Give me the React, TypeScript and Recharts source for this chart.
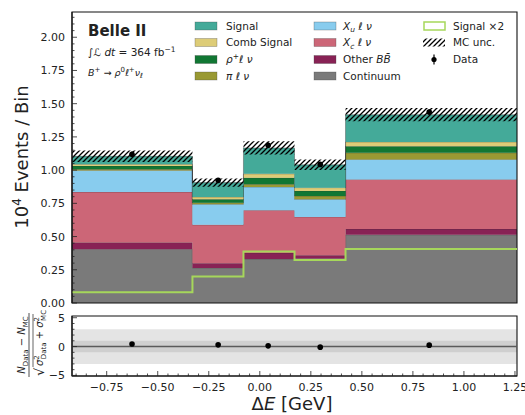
import { Area, ComposedChart, ErrorBar, Line, ReferenceArea, ReferenceLine, Scatter, XAxis, YAxis } from 'recharts';

// bin edges in ΔE [GeV]; the last edge closes the last bin of the step drawing
const binEdges = [-0.92, -0.33, -0.08, 0.17, 0.42, 1.26];

// stacked MC templates, 10^4 events / bin
const continuum = [0.405, 0.264, 0.331, 0.335, 0.513];
const otherBB = [0.05, 0.036, 0.045, 0.025, 0.043];
const xcLnu = [0.38, 0.288, 0.322, 0.288, 0.374];
const xuLnu = [0.163, 0.155, 0.175, 0.132, 0.15];
const piLnu = [0.008, 0.012, 0.02, 0.025, 0.05];
const rhoPlusLnu = [0.025, 0.025, 0.049, 0.038, 0.05];
const combSignal = [0.013, 0.018, 0.03, 0.025, 0.032];
const signal = [0.06, 0.108, 0.195, 0.172, 0.205];
const mcUnc = [0.043, 0.031, 0.05, 0.04, 0.05];
const signalTimes2 = [0.081, 0.2, 0.388, 0.324, 0.406];

// data points and pulls
const dataX = [-0.626, -0.204, 0.041, 0.296, 0.83];
const dataY = [1.12, 0.923, 1.187, 1.043, 1.437];
const dataErr = [0.02, 0.018, 0.02, 0.019, 0.022];
const pulls = [0.44, 0.3, 0.13, -0.1, 0.25];

const xMajor = [-0.75, -0.5, -0.25, 0, 0.25, 0.5, 0.75, 1, 1.25];
const yMajor = [0, 0.25, 0.5, 0.75, 1, 1.25, 1.5, 1.75, 2];
const pullMajor = [-5, 0, 5];

const X_DOMAIN: [number, number] = [-0.92, 1.26];
const Y_DOMAIN: [number, number] = [0, 2.19];
const PULL_DOMAIN: [number, number] = [-5.1, 5.3];
const FONT = '"DejaVu Sans", sans-serif';

function steps(from: number, to: number, step: number) {
  const out: number[] = [];
  for (let v = from; v <= to + 1e-9; v += step) out.push(Math.round(v * 1000) / 1000);
  return out;
}
const xMinor = steps(-0.9, 1.25, 0.05);
const yMinor = steps(0, 2.15, 0.05);
const pullMinor = steps(-5, 5, 1);

const layers = [
  { key: 'continuum', color: '#7a7a7a', values: continuum },
  { key: 'otherBB', color: '#882255', values: otherBB },
  { key: 'xc', color: '#cc6677', values: xcLnu },
  { key: 'xu', color: '#88ccee', values: xuLnu },
  { key: 'pi', color: '#999933', values: piLnu },
  { key: 'rho', color: '#117733', values: rhoPlusLnu },
  { key: 'comb', color: '#ddcc77', values: combSignal },
  { key: 'signal', color: '#44aa99', values: signal },
];

const histRows = binEdges.map((x, i) => {
  const b = Math.min(i, continuum.length - 1);
  const row: Record<string, number> = { x };
  let total = 0;
  layers.forEach((l) => {
    row[l.key] = l.values[b];
    total += l.values[b];
  });
  row.uncLo = total - mcUnc[b];
  row.uncBand = 2 * mcUnc[b];
  row.signalX2 = signalTimes2[b];
  return row;
});

const dataRows = dataX.map((x, i) => ({ x, y: dataY[i], err: dataErr[i] }));
const pullRows = dataX.map((x, i) => ({ x, pull: pulls[i] }));

const isMajor = (list: number[], v: number) => list.some((m) => Math.abs(m - v) < 1e-6);
const fmt = (v: number, d: number) => v.toFixed(d).replace('-', '\u2212');

function xTick(majors: number[], labels: boolean) {
  return (p: any) => {
    const major = isMajor(majors, p.payload.value);
    return (
      <g>
        <line x1={p.x} x2={p.x} y1={p.y} y2={p.y - (major ? 5 : 2.5)} stroke="#222" strokeWidth={0.8} />
        {labels && major && (
          <text x={p.x} y={p.y + 15} textAnchor="middle" fontSize={11} fill="#222" fontFamily={FONT}>
            {fmt(p.payload.value, 2)}
          </text>
        )}
      </g>
    );
  };
}

function yTick(majors: number[], digits: number) {
  return (p: any) => {
    const major = isMajor(majors, p.payload.value);
    return (
      <g>
        <line x1={p.x} x2={p.x + (major ? 5 : 2.5)} y1={p.y} y2={p.y} stroke="#222" strokeWidth={0.8} />
        {major && (
          <text x={p.x - 7} y={p.y + 4} textAnchor="end" fontSize={11} fill="#222" fontFamily={FONT}>
            {fmt(p.payload.value, digits)}
          </text>
        )}
      </g>
    );
  };
}

const axisStroke = { stroke: '#111', strokeWidth: 1.1 };
const dot = (p: any) => <circle cx={p.cx} cy={p.cy} r={2.8} fill="#000" />;

function MainPanel() {
  return (
    <ComposedChart width={525} height={310} data={histRows} margin={{ top: 12, right: 8, bottom: 7, left: 12 }}>
      {layers.map((l) => (
        <Area
          key={l.key}
          xAxisId="b"
          yAxisId="l"
          dataKey={l.key}
          stackId="mc"
          type="stepAfter"
          fill={l.color}
          fillOpacity={1}
          stroke="#333"
          strokeOpacity={0.55}
          strokeWidth={0.7}
          dot={false}
          activeDot={false}
          isAnimationActive={false}
        />
      ))}
      <Area xAxisId="b" yAxisId="l" dataKey="uncLo" stackId="unc" type="stepAfter" fill="none" stroke="none" dot={false} activeDot={false} isAnimationActive={false} />
      <Area xAxisId="b" yAxisId="l" dataKey="uncBand" stackId="unc" type="stepAfter" fill="url(#mcHatch)" fillOpacity={1} stroke="none" dot={false} activeDot={false} isAnimationActive={false} />
      <Line xAxisId="b" yAxisId="l" dataKey="signalX2" type="stepAfter" stroke="#a6d75b" strokeWidth={2} dot={false} activeDot={false} isAnimationActive={false} />
      <Scatter xAxisId="b" yAxisId="l" data={dataRows} dataKey="y" shape={dot} isAnimationActive={false}>
        <ErrorBar dataKey="err" direction="y" width={0} stroke="#000" strokeWidth={1.2} />
      </Scatter>
      {/* axes box */}
      <ReferenceArea xAxisId="b" yAxisId="l" x1={X_DOMAIN[0]} x2={X_DOMAIN[1]} y1={Y_DOMAIN[0]} y2={Y_DOMAIN[1]} fill="none" stroke="#111" strokeWidth={1.1} ifOverflow="visible" />
      <XAxis xAxisId="b" dataKey="x" type="number" domain={X_DOMAIN} allowDataOverflow ticks={xMinor} interval={0} height={0} tickSize={0} tickMargin={0} tickLine={false} axisLine={axisStroke} tick={xTick(xMajor, false)} />
      <YAxis yAxisId="l" type="number" domain={Y_DOMAIN} allowDataOverflow ticks={yMinor} interval={0} width={60} tickSize={0} tickMargin={0} tickLine={false} axisLine={axisStroke} tick={yTick(yMajor, 2)} />
    </ComposedChart>
  );
}

function PullPanel() {
  return (
    <ComposedChart width={525} height={115} data={pullRows} margin={{ top: 16, right: 8, bottom: 19, left: 12 }}>
      <ReferenceArea xAxisId="b" yAxisId="l" y1={-3} y2={3} fill="#e4e4e4" fillOpacity={1} stroke="none" />
      <ReferenceArea xAxisId="b" yAxisId="l" y1={-1} y2={1} fill="#cfcfcf" fillOpacity={1} stroke="none" />
      <ReferenceLine xAxisId="b" yAxisId="l" y={0} stroke="#5a5a5a" strokeWidth={1.5} />
      <Scatter xAxisId="b" yAxisId="l" dataKey="pull" shape={dot} isAnimationActive={false} />
      <ReferenceArea xAxisId="b" yAxisId="l" x1={X_DOMAIN[0]} x2={X_DOMAIN[1]} y1={PULL_DOMAIN[0]} y2={PULL_DOMAIN[1]} fill="none" stroke="#111" strokeWidth={1.1} ifOverflow="visible" />
      <XAxis xAxisId="b" dataKey="x" type="number" domain={X_DOMAIN} allowDataOverflow ticks={xMinor} interval={0} height={20} tickSize={0} tickMargin={0} tickLine={false} axisLine={axisStroke} tick={xTick(xMajor, true)} />
      <YAxis yAxisId="l" type="number" domain={PULL_DOMAIN} allowDataOverflow ticks={pullMinor} interval={0} width={60} tickSize={0} tickMargin={0} tickLine={false} axisLine={axisStroke} tick={yTick(pullMajor, 0)} />
    </ComposedChart>
  );
}

const legendRows = [26, 42.5, 59.5, 76];
const patchStyle = { stroke: '#444', strokeWidth: 0.5, strokeOpacity: 0.6 };

function Patch({ x, row, color }: { x: number; row: number; color: string }) {
  return <rect x={x} y={legendRows[row] - 4} width={22} height={8} fill={color} {...patchStyle} />;
}

function Overlay() {
  const it = { fontStyle: 'italic' as const };
  const lab = (x: number, row: number) => ({ x, y: legendRows[row] + 3.8 });
  return (
    <svg width={525} height={415} style={{ position: 'absolute', left: 0, top: 0, pointerEvents: 'none' }} fontFamily={FONT} fill="#222">
      <defs>
        <pattern id="mcHatch" patternUnits="userSpaceOnUse" width="5" height="5">
          <path d="M-1,1 l2,-2 M0,5 l5,-5 M4,6 l2,-2" stroke="#000" strokeWidth="1.3" />
        </pattern>
      </defs>

      <text x={88} y={35.5} fontSize={15} fontWeight="bold">Belle II</text>
      <text x={88} y={56} fontSize={10.5}>
        ∫<tspan {...it}>ℒ dt</tspan> = 364 fb<tspan dy={-4} fontSize={7.5}>−1</tspan>
      </text>
      <text x={88} y={75.5} fontSize={9.5}>
        <tspan {...it}>B</tspan><tspan dy={-3.5} fontSize={7}>+</tspan><tspan dy={3.5}> → </tspan>
        <tspan {...it}>ρ</tspan><tspan dy={-3.5} fontSize={7}>0</tspan><tspan dy={3.5} {...it}>ℓ</tspan>
        <tspan dy={-3.5} fontSize={7}>+</tspan><tspan dy={3.5} {...it}>ν</tspan><tspan dy={2.5} fontSize={7} {...it}>ℓ</tspan>
      </text>

      <g fontSize={10.5}>
        <Patch x={195} row={0} color="#44aa99" />
        <text {...lab(226, 0)}>Signal</text>
        <Patch x={195} row={1} color="#ddcc77" />
        <text {...lab(226, 1)}>Comb Signal</text>
        <Patch x={195} row={2} color="#117733" />
        <text {...lab(226, 2)}>
          <tspan {...it}>ρ</tspan><tspan dy={-4} fontSize={7.5}>+</tspan><tspan dy={4} {...it}>ℓ ν</tspan>
        </text>
        <Patch x={195} row={3} color="#999933" />
        <text {...lab(226, 3)}><tspan {...it}>π ℓ ν</tspan></text>

        <Patch x={314} row={0} color="#88ccee" />
        <text {...lab(343, 0)}>
          <tspan {...it}>X</tspan><tspan dy={2.5} fontSize={7.5} {...it}>u</tspan><tspan dy={-2.5} {...it}> ℓ ν</tspan>
        </text>
        <Patch x={314} row={1} color="#cc6677" />
        <text {...lab(343, 1)}>
          <tspan {...it}>X</tspan><tspan dy={2.5} fontSize={7.5} {...it}>c</tspan><tspan dy={-2.5} {...it}> ℓ ν</tspan>
        </text>
        <Patch x={314} row={2} color="#882255" />
        <text {...lab(343, 2)}>Other <tspan {...it}>B{'B\u0304'}</tspan></text>
        <Patch x={314} row={3} color="#7a7a7a" />
        <text {...lab(343, 3)}>Continuum</text>

        <rect x={424} y={legendRows[0] - 4} width={21} height={8} fill="#fff" stroke="#a6d75b" strokeWidth={1.5} />
        <text {...lab(453, 0)}>Signal ×2</text>
        <rect x={423} y={legendRows[1] - 4} width={22} height={8} fill="url(#mcHatch)" />
        <text {...lab(453, 1)}>MC unc.</text>
        <line x1={434} x2={434} y1={legendRows[2] - 5} y2={legendRows[2] + 5} stroke="#000" strokeWidth={1.2} />
        <circle cx={434} cy={legendRows[2]} r={2.6} fill="#000" />
        <text {...lab(453, 2)}>Data</text>
      </g>

      <text transform="rotate(-90 22 157)" x={22} y={163} textAnchor="middle" fontSize={18}>
        10<tspan dy={-7} fontSize={12}>4</tspan><tspan dy={7}> Events / Bin</tspan>
      </text>

      <text x={292} y={410} textAnchor="middle" fontSize={18}>
        Δ<tspan {...it}>E</tspan> [GeV]
      </text>

      <g transform="translate(30 346) rotate(-90)" fontSize={10}>
        <text x={1} y={-5} textAnchor="middle">
          <tspan {...it}>N</tspan><tspan dy={2.5} fontSize={7}>Data</tspan><tspan dy={-2.5}> − </tspan>
          <tspan {...it}>N</tspan><tspan dy={2.5} fontSize={7}>MC</tspan>
        </text>
        <line x1={-31} x2={33} y1={-1} y2={-1} stroke="#222" strokeWidth={0.8} />
        <text x={-30} y={14} fontSize={13}>√</text>
        <line x1={-21} x2={32} y1={3} y2={3} stroke="#222" strokeWidth={0.7} />
        <text x={-20} y={13}>
          <tspan {...it}>σ</tspan><tspan dy={-4} fontSize={7}>2</tspan><tspan dx={-4} dy={7} fontSize={7}>Data</tspan>
          <tspan dy={-3}> + </tspan>
          <tspan {...it}>σ</tspan><tspan dy={-4} fontSize={7}>2</tspan><tspan dx={-4} dy={7} fontSize={7}>MC</tspan>
        </text>
      </g>
    </svg>
  );
}

export default function App() {
  return (
    <div style={{ position: 'absolute', left: 0, top: 0, width: 525, height: 415, background: '#fff', fontFamily: FONT }}>
      <div style={{ position: 'absolute', left: 0, top: 0 }}>
        <MainPanel />
      </div>
      <div style={{ position: 'absolute', left: 0, top: 300 }}>
        <PullPanel />
      </div>
      <Overlay />
    </div>
  );
}
